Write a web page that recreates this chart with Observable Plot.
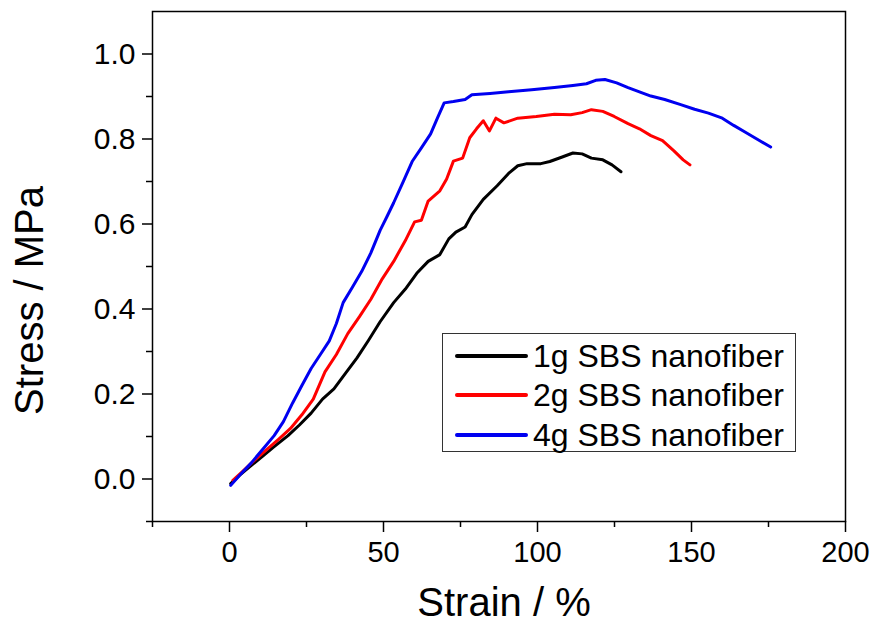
<!DOCTYPE html>
<html>
<head>
<meta charset="utf-8">
<script src="https://cdn.jsdelivr.net/npm/d3@7"></script>
<script src="https://cdn.jsdelivr.net/npm/@observablehq/plot@0.6"></script>
<style>
  html, body { margin: 0; padding: 0; background: #fff; }
  #wrap { position: relative; width: 875px; height: 626px; font-family: Arial, "Liberation Sans", sans-serif; }
  #legend { position: absolute; left: 442px; top: 333px; width: 354px; height: 119px; box-sizing: border-box; border: 1.5px solid #333; background: #fff; }
  .row { position: absolute; left: 0; height: 0; }
  .sw { position: absolute; left: 12px; width: 73px; height: 4px; top: -2px; border-radius: 2px; }
  .lab { position: absolute; left: 90px; top: -19px; font-size: 32px; line-height: 38px; white-space: nowrap; color: #000; }
</style>
</head>
<body>
<div id="wrap"></div>
<script>
// ---- data ----
const seriesNames = ["1g SBS nanofiber", "2g SBS nanofiber", "4g SBS nanofiber"];
const seriesColors = ["#000000", "#ff0000", "#0000f0"];

const strain1 = [0.4, 3.3, 7.1, 10.8, 14.5, 19.0, 22.7, 26.5, 30.2, 33.9, 37.7, 41.4, 45.1, 48.9, 53.3, 57.1, 60.8, 64.5, 68.3, 71.2, 73.5, 76.5, 78.7, 82.4, 86.9, 90.6, 93.6, 96.6, 101.1, 104.0, 107.8, 111.5, 114.5, 117.5, 121.2, 124.2, 127.1];
const stress1 = [-0.011, 0.009, 0.032, 0.054, 0.076, 0.102, 0.127, 0.155, 0.188, 0.212, 0.249, 0.285, 0.326, 0.370, 0.415, 0.447, 0.484, 0.512, 0.528, 0.565, 0.581, 0.593, 0.622, 0.658, 0.690, 0.719, 0.737, 0.742, 0.742, 0.747, 0.757, 0.767, 0.765, 0.755, 0.751, 0.739, 0.723];

const strain2 = [1.1, 4.1, 7.8, 11.6, 16.0, 19.8, 23.5, 27.2, 31.0, 34.7, 38.4, 42.2, 45.9, 49.6, 53.3, 57.1, 60.1, 62.3, 64.5, 68.3, 70.5, 72.7, 75.7, 78.0, 80.2, 82.4, 84.4, 86.5, 89.1, 93.6, 99.6, 105.5, 110.8, 114.5, 117.5, 121.2, 124.9, 129.4, 133.1, 136.8, 140.6, 144.3, 147.3, 149.5];
const stress2 = [-0.003, 0.017, 0.042, 0.066, 0.094, 0.119, 0.151, 0.188, 0.252, 0.293, 0.342, 0.382, 0.423, 0.471, 0.512, 0.561, 0.605, 0.609, 0.654, 0.678, 0.706, 0.748, 0.755, 0.803, 0.824, 0.843, 0.819, 0.849, 0.838, 0.849, 0.853, 0.858, 0.857, 0.862, 0.869, 0.865, 0.853, 0.836, 0.824, 0.808, 0.796, 0.772, 0.751, 0.739];

const strain4 = [0.4, 3.3, 7.1, 10.8, 14.5, 17.5, 20.5, 23.5, 26.5, 29.5, 32.4, 34.7, 36.9, 39.9, 42.9, 45.9, 48.9, 51.1, 53.3, 56.3, 59.3, 62.3, 65.3, 67.5, 69.7, 72.7, 76.5, 78.7, 84.6, 90.6, 98.1, 105.5, 111.5, 115.9, 118.9, 121.9, 125.7, 129.4, 133.1, 136.8, 141.3, 146.5, 151.0, 155.5, 160.0, 163.7, 167.5, 171.9, 175.7];
const stress4 = [-0.015, 0.009, 0.038, 0.070, 0.102, 0.135, 0.179, 0.220, 0.260, 0.293, 0.325, 0.366, 0.415, 0.451, 0.488, 0.532, 0.585, 0.617, 0.650, 0.698, 0.747, 0.779, 0.812, 0.849, 0.885, 0.888, 0.893, 0.904, 0.907, 0.911, 0.916, 0.921, 0.926, 0.930, 0.938, 0.940, 0.932, 0.921, 0.911, 0.901, 0.893, 0.881, 0.870, 0.861, 0.849, 0.832, 0.816, 0.797, 0.781];

const xMajorTicks = [0, 50, 100, 150, 200];
const xMinorTicks = [-25, 25, 75, 125, 175];
const yMajorTicks = [0, 0.2, 0.4, 0.6, 0.8, 1.0];
const yMinorTicks = [-0.1, 0.1, 0.3, 0.5, 0.7, 0.9];
const xTitle = "Strain / %";
const yTitle = "Stress / MPa";

// ---- build table ----
const seriesData = [[strain1, stress1], [strain2, stress2], [strain4, stress4]];
const rows = [];
seriesData.forEach(([xs, ys], i) => {
  xs.forEach((x, j) => rows.push({series: seriesNames[i], strain: x, stress: ys[j]}));
});

const chart = Plot.plot({
  width: 875,
  height: 626,
  marginLeft: 152,
  marginRight: 30,
  marginTop: 11,
  marginBottom: 105,
  style: {fontFamily: "Arial, 'Liberation Sans', sans-serif", background: "#fff", color: "#000"},
  x: {domain: [-25, 200]},
  y: {domain: [-0.1, 1.1]},
  color: {domain: seriesNames, range: seriesColors},
  marks: [
    Plot.axisX({ticks: xMajorTicks, tickSize: 11, tickPadding: 9, fontSize: 29, strokeWidth: 1.5, label: null}),
    Plot.axisX({ticks: xMinorTicks, tickSize: 6, tickFormat: () => "", strokeWidth: 1.5, label: null}),
    Plot.axisY({ticks: yMajorTicks, tickSize: 10, tickPadding: 7, fontSize: 30, tickFormat: d3.format(".1f"), strokeWidth: 1.5, label: null}),
    Plot.axisY({ticks: yMinorTicks, tickSize: 6, tickFormat: () => "", strokeWidth: 1.5, label: null}),
    Plot.line(rows, {x: "strain", y: "stress", z: "series", stroke: "series", strokeWidth: 3, strokeLinejoin: "round", strokeLinecap: "round"}),
    Plot.frame({stroke: "#000", strokeWidth: 1.5}),
    Plot.text([xTitle], {frameAnchor: "bottom", lineAnchor: "middle", textAnchor: "middle", dy: 82, dx: 5, fontSize: 40, fill: "#000"}),
    Plot.text([yTitle], {frameAnchor: "left", lineAnchor: "middle", textAnchor: "middle", rotate: -90, dx: -122, dy: 34, fontSize: 40, fill: "#000"})
  ]
});

const wrap = document.getElementById("wrap");
wrap.appendChild(chart);

// legend overlay
const legend = document.createElement("div");
legend.id = "legend";
const rowTops = [22, 61, 101];
seriesNames.forEach((name, i) => {
  const r = document.createElement("div");
  r.className = "row";
  r.style.top = rowTops[i] + "px";
  const sw = document.createElement("div");
  sw.className = "sw";
  sw.style.background = seriesColors[i];
  const lab = document.createElement("div");
  lab.className = "lab";
  lab.textContent = name;
  r.appendChild(sw);
  r.appendChild(lab);
  legend.appendChild(r);
});
wrap.appendChild(legend);
</script>
</body>
</html>
